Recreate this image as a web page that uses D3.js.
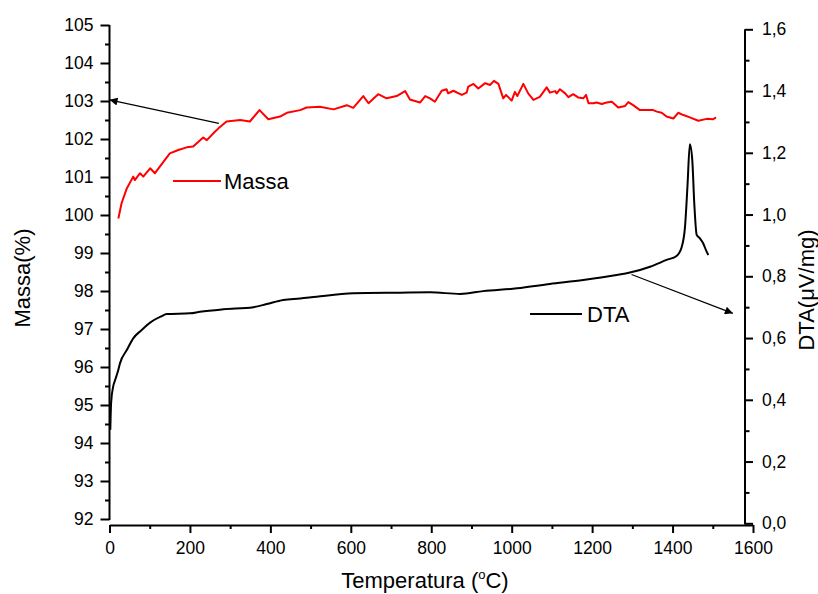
<!DOCTYPE html>
<html>
<head>
<meta charset="utf-8">
<script src="https://cdn.jsdelivr.net/npm/d3@7"></script>
<style>
  html, body { margin: 0; padding: 0; background: #fff; }
  svg { display: block; font-family: "Liberation Sans", Arial, sans-serif; }
</style>
</head>
<body>
<svg id="chart" width="818" height="594"></svg>
<script>
// Thermogravimetric mass (%) vs temperature (°C)
const massaTemp = [22, 30, 43, 59, 63, 76, 84, 101, 113, 134, 150, 171, 192, 208, 233, 242, 262, 271, 291, 325, 349, 373, 395, 424, 441, 474, 490, 523, 557, 590, 606, 631, 644, 668, 689, 714, 735, 747, 772, 785, 797, 809, 826, 838, 842, 855, 876, 888, 892, 905, 917, 934, 946, 956, 967, 979, 986, 1000, 1008, 1014, 1029, 1041, 1054, 1070, 1087, 1095, 1108, 1112, 1120, 1133, 1141, 1153, 1166, 1178, 1185, 1191, 1203, 1211, 1224, 1236, 1249, 1265, 1282, 1290, 1302, 1319, 1336, 1352, 1361, 1373, 1385, 1402, 1414, 1427, 1443, 1464, 1485, 1501, 1508];
const massaValues = [99.91, 100.31, 100.70, 101.01, 100.92, 101.10, 101.01, 101.23, 101.10, 101.40, 101.62, 101.71, 101.78, 101.80, 102.04, 101.97, 102.19, 102.28, 102.46, 102.50, 102.46, 102.76, 102.52, 102.59, 102.69, 102.76, 102.83, 102.85, 102.78, 102.89, 102.82, 103.13, 102.94, 103.18, 103.07, 103.13, 103.26, 103.04, 102.96, 103.13, 103.07, 102.98, 103.27, 103.31, 103.20, 103.27, 103.16, 103.22, 103.38, 103.45, 103.33, 103.47, 103.42, 103.53, 103.45, 103.07, 103.16, 103.01, 103.24, 103.13, 103.45, 103.20, 103.03, 103.11, 103.36, 103.22, 103.26, 103.20, 103.31, 103.20, 103.10, 103.18, 103.09, 103.07, 103.16, 102.94, 102.94, 102.96, 102.92, 102.96, 102.98, 102.83, 102.87, 102.97, 102.89, 102.76, 102.76, 102.76, 102.72, 102.69, 102.59, 102.54, 102.69, 102.63, 102.57, 102.48, 102.53, 102.52, 102.57];

// Differential thermal analysis signal (µV/mg) vs temperature (°C)
const dtaTemp = [2, 4, 9, 14, 22, 26, 43, 59, 80, 101, 130, 142, 200, 225, 283, 358, 391, 432, 474, 515, 606, 722, 797, 872, 929, 1013, 1095, 1178, 1261, 1294, 1344, 1385, 1410, 1423, 1431, 1437, 1443, 1449, 1454, 1460, 1468, 1476, 1483, 1489];
const dtaValues = [0.303, 0.390, 0.442, 0.464, 0.497, 0.518, 0.561, 0.599, 0.626, 0.650, 0.671, 0.678, 0.680, 0.685, 0.693, 0.700, 0.710, 0.723, 0.728, 0.734, 0.745, 0.747, 0.748, 0.743, 0.752, 0.761, 0.775, 0.788, 0.804, 0.812, 0.831, 0.853, 0.866, 0.896, 0.961, 1.090, 1.228, 1.177, 1.036, 0.934, 0.923, 0.907, 0.885, 0.869];

// Tick values
const xTicks = [0, 200, 400, 600, 800, 1000, 1200, 1400, 1600];
const massaTicks = [92, 93, 94, 95, 96, 97, 98, 99, 100, 101, 102, 103, 104, 105];
const dtaTicks = [0.0, 0.2, 0.4, 0.6, 0.8, 1.0, 1.2, 1.4, 1.6];

// Annotation arrows, in data units of each series' axis
const massaArrow = { from: [272, 102.41], to: [0, 103.03] };
const dtaArrow = { from: [1298, 0.806], to: [1550, 0.68] };

const svg = d3.select("#chart");

const x = d3.scaleLinear().domain([0, 1600]).range([109.5, 753]);
const yL = d3.scaleLinear().domain([92, 105]).range([519, 25]);
const yR = d3.scaleLinear().domain([0, 1.6]).range([523.3, 29.3]);

const commaFmt = d => d3.format(".1f")(d).replace(".", ",");
const tickFont = "17.5px";

function styleAxis(g) {
  g.selectAll("path.domain").attr("stroke", "#000").attr("stroke-width", 2);
  g.selectAll(".tick line").attr("stroke", "#000").attr("stroke-width", 2);
  g.selectAll(".tick text").attr("fill", "#000").style("font-size", tickFont)
    .style("font-family", "'Liberation Sans', Arial, sans-serif");
}

// Minor ticks
const gLminor = svg.append("g").attr("transform", "translate(109.5,0)")
  .call(d3.axisLeft(yL).tickValues(d3.range(92.5, 105, 1)).tickSize(4.5).tickFormat(""));
const gRminor = svg.append("g").attr("transform", "translate(745,0)")
  .call(d3.axisRight(yR).tickValues(d3.range(0.1, 1.6, 0.2)).tickSize(4.5).tickFormat(""));
const gBminor = svg.append("g").attr("transform", "translate(0,525)")
  .call(d3.axisBottom(x).tickValues(d3.range(100, 1600, 200)).tickSize(4).tickFormat(""));
[gLminor, gRminor, gBminor].forEach(g => { styleAxis(g); g.select("path.domain").remove(); });

// Major axes
const gL = svg.append("g").attr("transform", "translate(109.5,0)")
  .call(d3.axisLeft(yL).tickValues(massaTicks).tickSize(9).tickSizeOuter(0).tickPadding(7).tickFormat(d3.format("d")));
styleAxis(gL);
gL.select("path.domain").attr("d", "M0,25V520");

const gR = svg.append("g").attr("transform", "translate(745,0)")
  .call(d3.axisRight(yR).tickValues(dtaTicks).tickSize(8).tickSizeOuter(0).tickPadding(9).tickFormat(commaFmt));
styleAxis(gR);
gR.select("path.domain").attr("d", "M0,29.3V524.5");

const gB = svg.append("g").attr("transform", "translate(0,525)")
  .call(d3.axisBottom(x).tickValues(xTicks).tickSize(8).tickSizeOuter(0).tickPadding(9).tickFormat(d3.format("d")));
styleAxis(gB);

// Series
const massaData = massaTemp.map((t, i) => [t, massaValues[i]]);
const dtaData = dtaTemp.map((t, i) => [t, dtaValues[i]]);

svg.append("path")
  .datum(dtaData)
  .attr("fill", "none").attr("stroke", "#000").attr("stroke-width", 2)
  .attr("stroke-linejoin", "round")
  .attr("d", d3.line().curve(d3.curveMonotoneX).x(d => x(d[0])).y(d => yR(d[1])));

svg.append("path")
  .datum(massaData)
  .attr("fill", "none").attr("stroke", "#ff0000").attr("stroke-width", 2)
  .attr("stroke-linejoin", "round")
  .attr("d", d3.line().x(d => x(d[0])).y(d => yL(d[1])));

// Arrows
const defs = svg.append("defs");
defs.append("marker")
  .attr("id", "arrowhead").attr("viewBox", "0 0 10 10")
  .attr("refX", 10).attr("refY", 5)
  .attr("markerWidth", 11).attr("markerHeight", 8)
  .attr("markerUnits", "userSpaceOnUse")
  .attr("orient", "auto")
  .append("path").attr("d", "M0,0L10,5L0,10Z").attr("fill", "#000");

svg.append("line")
  .attr("x1", x(massaArrow.from[0])).attr("y1", yL(massaArrow.from[1]))
  .attr("x2", x(massaArrow.to[0])).attr("y2", yL(massaArrow.to[1]))
  .attr("stroke", "#000").attr("stroke-width", 1.2)
  .attr("marker-end", "url(#arrowhead)");

svg.append("line")
  .attr("x1", x(dtaArrow.from[0])).attr("y1", yR(dtaArrow.from[1]))
  .attr("x2", x(dtaArrow.to[0])).attr("y2", yR(dtaArrow.to[1]))
  .attr("stroke", "#000").attr("stroke-width", 1.2)
  .attr("marker-end", "url(#arrowhead)");

// Legend entries
const legendFont = "22px";
svg.append("line").attr("x1", 173).attr("x2", 221).attr("y1", 181).attr("y2", 181)
  .attr("stroke", "#ff0000").attr("stroke-width", 2);
svg.append("text").attr("x", 224).attr("y", 188.5).style("font-size", legendFont).text("Massa");

svg.append("line").attr("x1", 530).attr("x2", 582).attr("y1", 314).attr("y2", 314)
  .attr("stroke", "#000").attr("stroke-width", 2);
svg.append("text").attr("x", 587).attr("y", 322).style("font-size", legendFont).text("DTA");

// Axis titles
const titleFont = "22px";
const xt = svg.append("text").attr("x", 425).attr("y", 588)
  .attr("text-anchor", "middle").style("font-size", titleFont);
xt.append("tspan").text("Temperatura (");
xt.append("tspan").attr("dy", -9).style("font-size", "13px").text("o");
xt.append("tspan").attr("dy", 9).text("C)");

svg.append("text")
  .attr("transform", "translate(30,278) rotate(-90)")
  .attr("text-anchor", "middle").style("font-size", titleFont)
  .text("Massa(%)");

svg.append("text")
  .attr("transform", "translate(814,290) rotate(-90)")
  .attr("text-anchor", "middle").style("font-size", titleFont)
  .text("DTA(\u03BCV/mg)");
</script>
</body>
</html>
